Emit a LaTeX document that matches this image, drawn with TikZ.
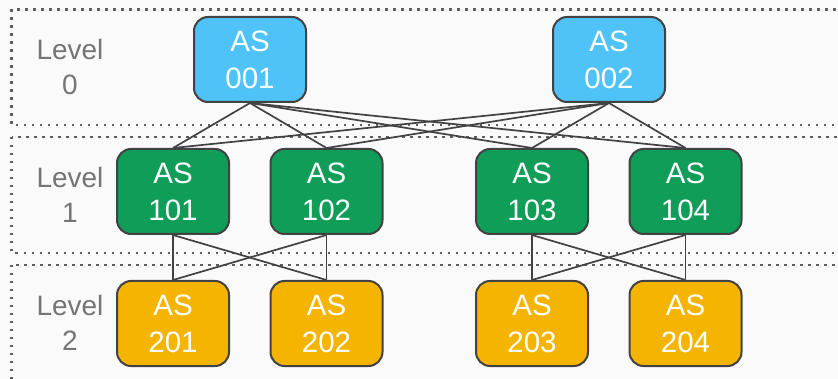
\documentclass[tikz,border=0pt]{standalone}
\usepackage{fontspec}
\setmainfont{Liberation Sans}
\usepackage{tikz}
\definecolor{bggray}{HTML}{FAFAFA}
\definecolor{framegray}{HTML}{5E5E5E}
\definecolor{labelgray}{HTML}{757575}
\definecolor{boxline}{HTML}{424242}
\definecolor{level0}{HTML}{4FC3F7}
\definecolor{level1}{HTML}{0F9D58}
\definecolor{level2}{HTML}{F4B400}
\tikzset{as box/.style={draw=boxline,line width=2pt,rounded corners=14pt,minimum width=112pt,minimum height=85pt,inner sep=0pt,text=white,align=center,font=\fontsize{29.5}{37}\selectfont}}
\tikzset{level label/.style={text=labelgray,align=center,inner sep=0pt,font=\fontsize{28}{35}\selectfont}}
\tikzset{level frame/.style={draw=framegray,line width=2.2pt,dash pattern=on 2.2pt off 5.8pt}}
\tikzset{link/.style={draw=boxline,line width=1.7pt}}

\begin{document}
\begin{tikzpicture}[x=1pt,y=-1pt]

          %背景
          \clip (0,0) rectangle (838,379);
          \fill[bggray] (0,0) rectangle (838,379);

          %Levelの枠
          \draw[level frame] (11.5,9.5) rectangle (860,125);
          \draw[level frame] (11.5,137) rectangle (860,253);
          \draw[level frame] (11.5,265) rectangle (860,400);

          %Levelのラベル
          \node[level label] (L0) at (70,67) {Level\\0};
          \node[level label] (L1) at (70,195) {Level\\1};
          \node[level label] (L2) at (70,323) {Level\\2};

          %Level 0
          \node[as box, fill=level0] (a001) at (250,59.5) {AS\\001};
          \node[as box, fill=level0] (a002) at (609,59.5) {AS\\002};

          %Level 1
          \node[as box, fill=level1] (a101) at (173,191.5) {AS\\101};
          \node[as box, fill=level1] (a102) at (326.5,191.5) {AS\\102};
          \node[as box, fill=level1] (a103) at (532,191.5) {AS\\103};
          \node[as box, fill=level1] (a104) at (685.5,191.5) {AS\\104};

          %Level 2
          \node[as box, fill=level2] (a201) at (173,323.5) {AS\\201};
          \node[as box, fill=level2] (a202) at (326.5,323.5) {AS\\202};
          \node[as box, fill=level2] (a203) at (532,323.5) {AS\\203};
          \node[as box, fill=level2] (a204) at (685.5,323.5) {AS\\204};

          %0->1
          \draw[link] (a001.south) -- (a101.north);
          \draw[link] (a001.south) -- (a102.north);
          \draw[link] (a001.south) -- (a103.north);
          \draw[link] (a001.south) -- (a104.north);
          \draw[link] (a002.south) -- (a101.north);
          \draw[link] (a002.south) -- (a102.north);
          \draw[link] (a002.south) -- (a103.north);
          \draw[link] (a002.south) -- (a104.north);

          %1->2
          \draw[link] (a101.south) -- (a201.north);
          \draw[link] (a101.south) -- (a202.north);
          \draw[link] (a102.south) -- (a201.north);
          \draw[link] (a102.south) -- (a202.north);
          \draw[link] (a103.south) -- (a203.north);
          \draw[link] (a103.south) -- (a204.north);
          \draw[link] (a104.south) -- (a203.north);
          \draw[link] (a104.south) -- (a204.north);

        \end{tikzpicture}
\end{document}
